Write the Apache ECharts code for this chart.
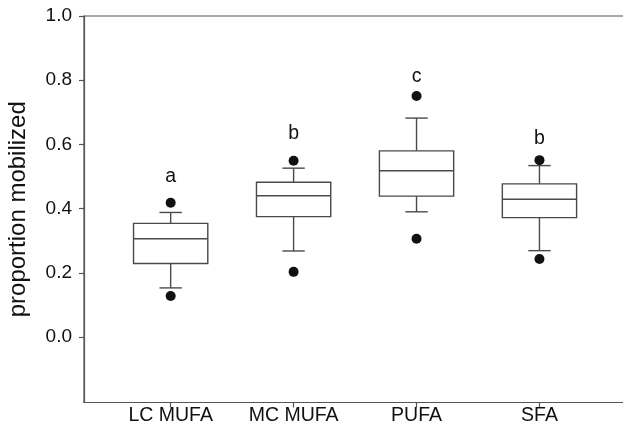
<!DOCTYPE html>
<html>
<head>
<meta charset="utf-8">
<script src="https://cdn.jsdelivr.net/npm/echarts@6/dist/echarts.min.js"></script>
<style>html,body{margin:0;padding:0;background:#fff}#c{width:623px;height:427px}</style>
</head>
<body>
<div id="c"></div>
<script>
const categories = ['LC MUFA', 'MC MUFA', 'PUFA', 'SFA'];
const whiskerLow = [0.153, 0.268, 0.390, 0.269];
const q1 = [0.229, 0.375, 0.439, 0.372];
const median = [0.306, 0.440, 0.518, 0.429];
const q3 = [0.354, 0.482, 0.580, 0.477];
const whiskerHigh = [0.388, 0.526, 0.682, 0.534];
const outlierHigh = [0.418, 0.549, 0.751, 0.551];
const outlierLow = [0.128, 0.203, 0.306, 0.243];
const groupLetters = ['a', 'b', 'c', 'b'];
const letterY = [0.500, 0.634, 0.812, 0.619];
const yTicks = [0, 0.2, 0.4, 0.6, 0.8, 1.0];
const xPositions = categories.map((c, i) => i + 1);

const lineColor = '#4a4a4a';
const fontFam = 'Liberation Sans, Arial, sans-serif';
const boxData = categories.map((c, i) => [xPositions[i], whiskerLow[i], q1[i], median[i], q3[i], whiskerHigh[i]]);
const outlierData = [];
categories.forEach((c, i) => {
  outlierData.push([xPositions[i], outlierHigh[i]]);
  outlierData.push([xPositions[i], outlierLow[i]]);
});
const letterData = categories.map((c, i) => [xPositions[i], letterY[i]]);

function renderBox(params, api) {
  const x = api.value(0);
  const pLo = api.coord([x, api.value(1)]);
  const pQ1 = api.coord([x, api.value(2)]);
  const pMed = api.coord([x, api.value(3)]);
  const pQ3 = api.coord([x, api.value(4)]);
  const pHi = api.coord([x, api.value(5)]);
  const half = api.size([0.604, 0])[0] / 2;
  const capHalf = api.size([0.182, 0])[0] / 2;
  const cx = pMed[0];
  const st = { stroke: lineColor, lineWidth: 1.4, fill: null };
  return {
    type: 'group',
    children: [
      { type: 'line', shape: { x1: cx, y1: pQ3[1], x2: cx, y2: pHi[1] }, style: st },
      { type: 'line', shape: { x1: cx - capHalf, y1: pHi[1], x2: cx + capHalf, y2: pHi[1] }, style: st },
      { type: 'line', shape: { x1: cx, y1: pQ1[1], x2: cx, y2: pLo[1] }, style: st },
      { type: 'line', shape: { x1: cx - capHalf, y1: pLo[1], x2: cx + capHalf, y2: pLo[1] }, style: st },
      { type: 'rect', shape: { x: cx - half, y: pQ3[1], width: half * 2, height: pQ1[1] - pQ3[1] }, style: { stroke: lineColor, lineWidth: 1.4, fill: '#fff' } },
      { type: 'line', shape: { x1: cx - half, y1: pMed[1], x2: cx + half, y2: pMed[1] }, style: st }
    ]
  };
}

function renderLetter(params, api) {
  const p = api.coord([api.value(0), api.value(1)]);
  return {
    type: 'text',
    x: p[0], y: p[1],
    style: {
      text: groupLetters[params.dataIndex],
      textAlign: 'center', textVerticalAlign: 'middle',
      fontFamily: fontFam, fontSize: 19.5, fill: '#111'
    }
  };
}

const chart = echarts.init(document.getElementById('c'), null, { renderer: 'canvas' });
chart.setOption({
  animation: false,
  backgroundColor: '#fff',
  grid: {
    left: 84, top: 16, width: 578.4, height: 386.5,
    show: true, borderColor: '#555', borderWidth: 1.2, backgroundColor: 'transparent',
    outerBoundsMode: 'none', containLabel: false
  },
  xAxis: {
    type: 'value', min: 0.295, max: 5.0,
    splitLine: { show: false },
    axisLine: { show: true, onZero: false, lineStyle: { color: '#555', width: 1.2 } },
    axisTick: { show: true, customValues: xPositions, length: 5, lineStyle: { color: '#555', width: 1.2 } },
    axisLabel: {
      customValues: xPositions,
      formatter: v => categories[Math.round(v) - 1] || '',
      color: '#111', fontSize: 19.5, fontFamily: fontFam, margin: 3
    }
  },
  yAxis: {
    type: 'value', min: -0.204, max: 1.0,
    name: 'proportion mobilized', nameLocation: 'middle', nameGap: 54,
    nameTextStyle: { color: '#111', fontSize: 24, fontFamily: fontFam },
    splitLine: { show: false },
    axisLine: { show: true, onZero: false, lineStyle: { color: '#555', width: 1.2 } },
    axisTick: { show: true, customValues: yTicks, length: 5, lineStyle: { color: '#555', width: 1.2 } },
    axisLabel: {
      customValues: yTicks,
      formatter: v => v.toFixed(1),
      color: '#111', fontSize: 19, fontFamily: fontFam, margin: 12
    }
  },
  series: [
    { type: 'custom', renderItem: renderBox, data: boxData, encode: { x: 0, y: [1, 2, 3, 4, 5] }, z: 3 },
    { type: 'scatter', data: outlierData, symbol: 'circle', symbolSize: 10, itemStyle: { color: '#111', opacity: 1 }, z: 4 },
    { type: 'custom', renderItem: renderLetter, data: letterData, encode: { x: 0, y: 1 }, z: 5 }
  ]
});
</script>
</body>
</html>
